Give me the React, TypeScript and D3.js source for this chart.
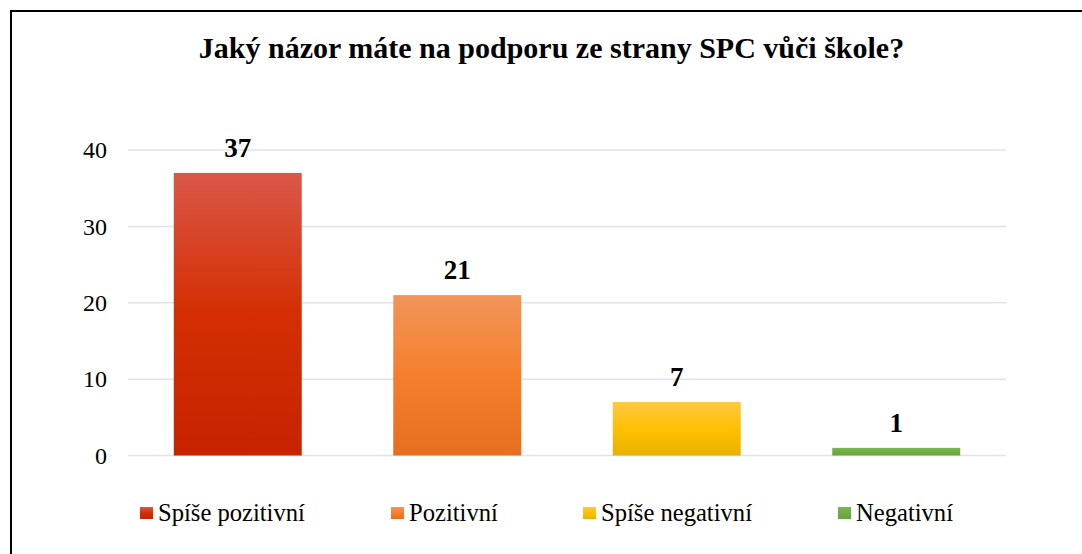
import React from 'react'
import * as d3 from 'd3'

const categories = ['Spíše pozitivní', 'Pozitivní', 'Spíše negativní', 'Negativní']
const values = [37, 21, 7, 1]
const yTicks = [0, 10, 20, 30, 40]
const gradients = [
  ['#da5848', '#d42e02', '#c72300'],
  ['#f1955a', '#f57e2c', '#e46f1e'],
  ['#ffc842', '#ffc000', '#e7b200'],
  ['#7ab652', '#70ad47', '#67a43e'],
]
const legendX = [140, 391, 583, 838]

const W = 1082
const H = 554
const serif = "'Liberation Serif', 'Times New Roman', Times, serif"

export default function App() {
  const x = d3.scaleBand<string>().domain(categories).range([128, 1006]).paddingInner(0.417).paddingOuter(0.2085)
  const y = d3.scaleLinear().domain([0, 40]).range([455.5, 150])

  return (
    <svg width={W} height={H} style={{ position: 'absolute', left: 0, top: 0, background: '#fff', fontFamily: serif }}>
      <defs>
        {gradients.map((g, i) => (
          <linearGradient key={i} id={`grad-${i}`} x1="0" y1="0" x2="0" y2="1">
            <stop offset="0%" stopColor={g[0]} />
            <stop offset="50%" stopColor={g[1]} />
            <stop offset="100%" stopColor={g[2]} />
          </linearGradient>
        ))}
      </defs>
      <rect x={0} y={0} width={W} height={H} fill="#fff" />
      <rect x={11} y={11} width={W + 20} height={H + 20} fill="none" stroke="#000" strokeWidth={2} />

      <text x={551.5} y={58} textAnchor="middle" fontSize={30} fontWeight="bold">
        Jaký názor máte na podporu ze strany SPC vůči škole?
      </text>

      {yTicks.map((t) => (
        <g key={t}>
          <line x1={128} x2={1006} y1={y(t)} y2={y(t)} stroke="#dfe3ea" strokeWidth={1.5} />
          <text x={107} y={y(t)} dy="0.34em" textAnchor="end" fontSize={24}>
            {t}
          </text>
        </g>
      ))}

      {categories.map((c, i) => (
        <g key={c}>
          <rect
            x={x(c)}
            y={y(values[i])}
            width={x.bandwidth()}
            height={y(0) - y(values[i])}
            fill={`url(#grad-${i})`}
          />
          <text
            x={(x(c) ?? 0) + x.bandwidth() / 2}
            y={y(values[i]) - 16}
            textAnchor="middle"
            fontSize={27}
            fontWeight="bold"
          >
            {values[i]}
          </text>
        </g>
      ))}

      {categories.map((c, i) => (
        <g key={`legend-${c}`}>
          <rect x={legendX[i]} y={507} width={13} height={12} fill={`url(#grad-${i})`} />
          <text x={legendX[i] + 18} y={521} fontSize={24.6}>
            {c}
          </text>
        </g>
      ))}
    </svg>
  )
}
